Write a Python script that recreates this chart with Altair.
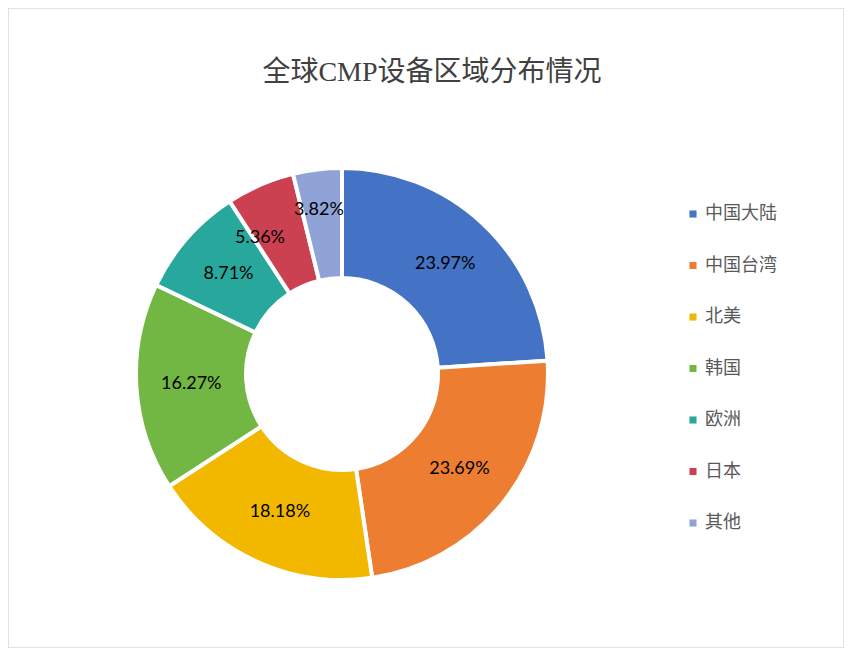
import altair as alt
import pandas as pd

regions = ["中国大陆", "中国台湾", "北美", "韩国", "欧洲", "日本", "其他"]
shares = [23.97, 23.69, 18.18, 16.27, 8.71, 5.36, 3.82]
labels = ["23.97%", "23.69%", "18.18%", "16.27%", "8.71%", "5.36%", "3.82%"]
colors = ["#4472C4", "#ED7D31", "#F2B800", "#72B743", "#28A89C", "#CC4152", "#8FA3D6"]
title_text = "全球CMP设备区域分布情况"

df = pd.DataFrame({"region": regions, "share": shares, "label": labels,
                   "idx": list(range(len(regions)))})

CX, CY = 334, 366

arcs = alt.Chart(df).mark_arc(outerRadius=206, innerRadius=96, stroke="white", strokeWidth=4).encode(
    theta=alt.Theta("share:Q", stack=True),
    order=alt.Order("idx:Q"),
    x=alt.value(CX), y=alt.value(CY),
    color=alt.Color("region:N", sort=regions,
                    scale=alt.Scale(domain=regions, range=colors),
                    legend=alt.Legend(title=None, orient="none", legendX=676, legendY=197,
                                      symbolType="square", symbolSize=50, symbolStrokeWidth=0,
                                      labelFont="Noto Sans CJK SC", labelFontSize=18,
                                      labelColor="#595959", rowPadding=33.5, labelOffset=3,
                                      labelLimit=200)),
)

lab_base = alt.Chart(df).transform_joinaggregate(
    total="sum(share)"
).transform_window(
    cum="sum(share)", sort=[alt.SortField("idx")], frame=[None, 0]
).transform_calculate(
    mid="(datum.cum - datum.share / 2) / datum.total * 2 * PI"
).encode(
    theta=alt.Theta("mid:Q", scale=None),
    x=alt.value(CX), y=alt.value(CY), text="label:N",
)

txt_style = dict(font="Lato", fontSize=18, color="#000000")

texts_main = lab_base.mark_text(radius=151, **txt_style).transform_filter(
    alt.FieldOneOfPredicate(field="region", oneOf=regions[:5]))

text_jp = lab_base.mark_text(radius=151, dx=-22, dy=3, **txt_style).transform_filter(
    alt.FieldEqualPredicate(field="region", equal="日本"))

text_other = lab_base.mark_text(radius=151, dx=-5, dy=-14, **txt_style).transform_filter(
    alt.FieldEqualPredicate(field="region", equal="其他"))

title = alt.Chart(pd.DataFrame({"t": [title_text]})).mark_text(
    font="Liberation Serif, Noto Sans CJK SC", fontSize=28, color="#404040",
    align="center", baseline="middle"
).encode(x=alt.value(424), y=alt.value(65), text="t:N")

chart = alt.layer(arcs, texts_main, text_jp, text_other, title).properties(
    width=836, height=640, padding=0, autosize=alt.AutoSizeParams(type="none")
).configure_view(stroke="#D9D9D9", strokeWidth=1.5)

chart.save("out.html", embed_options={"renderer": "svg", "actions": False})
